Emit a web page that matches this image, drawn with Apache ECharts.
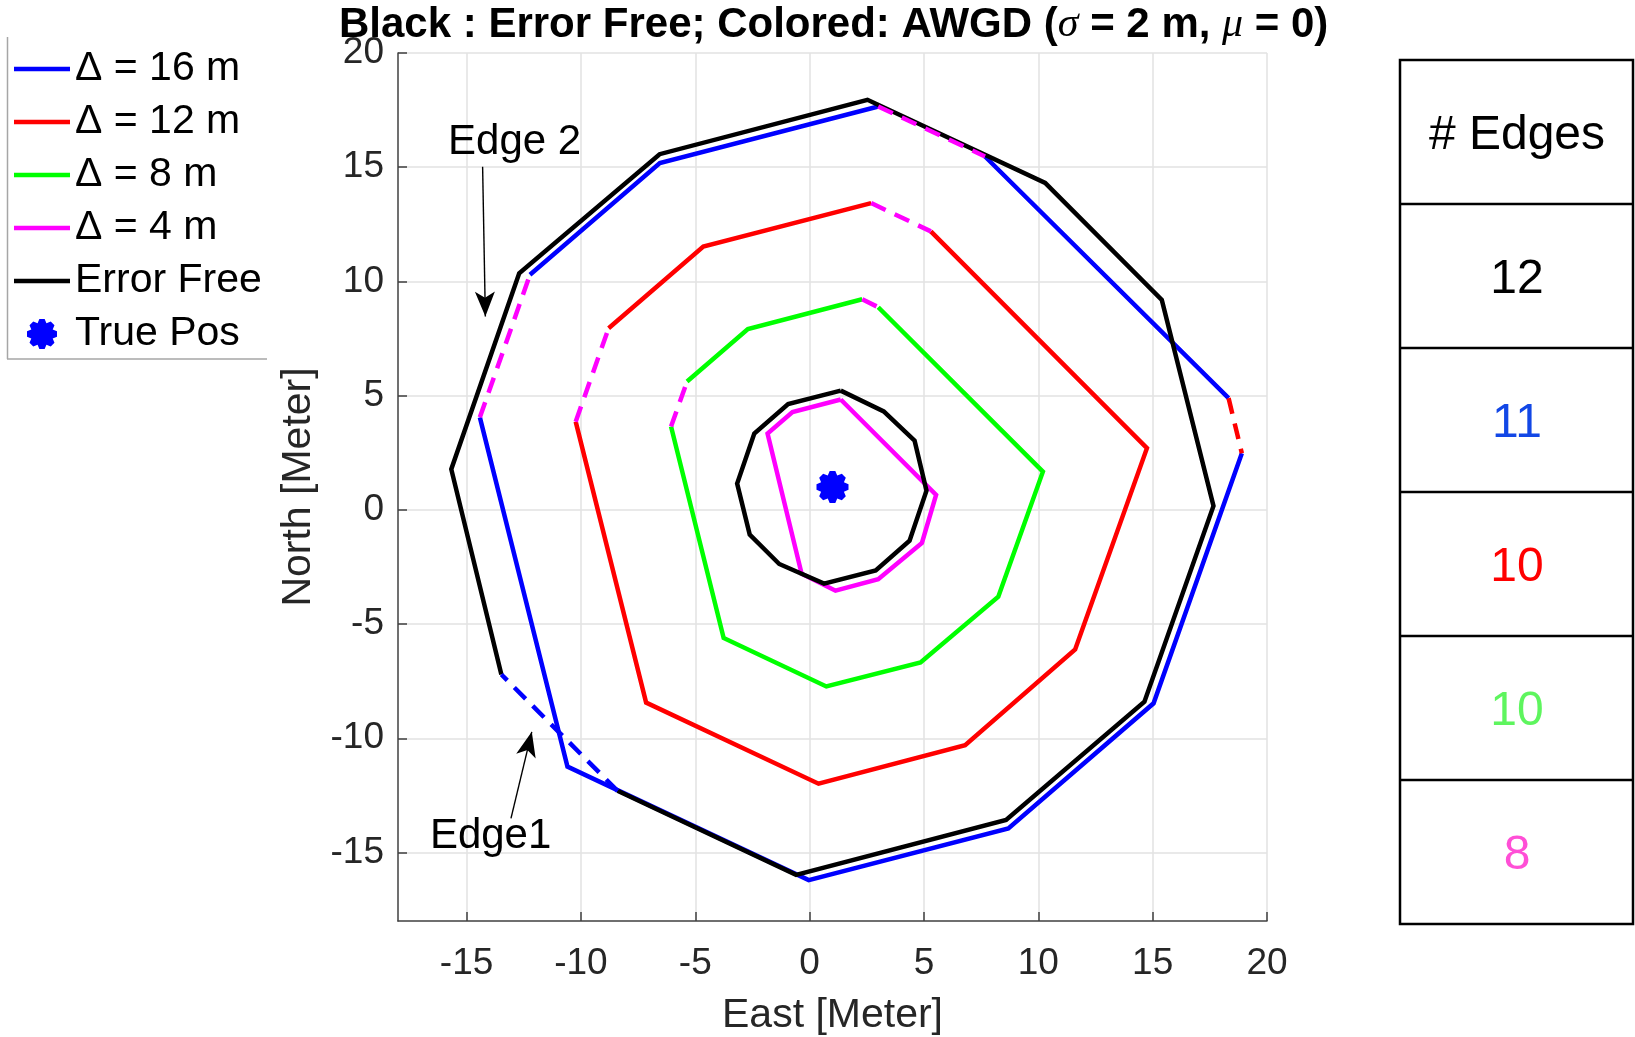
<!DOCTYPE html>
<html><head><meta charset="utf-8">
<script src="https://cdn.jsdelivr.net/npm/echarts@6/dist/echarts.min.js"></script>
<style>html,body{margin:0;padding:0;background:#fff}#c{width:1635px;height:1037px}</style>
</head><body><div id="c"></div>
<script>
// ---------------- data ----------------
const xTicks = [-15, -10, -5, 0, 5, 10, 15, 20];
const yTicks = [-15, -10, -5, 0, 5, 10, 15, 20];
const axisMin = -18, axisMax = 20;

// Error free polygons (12 edges each)
const errorFreeOuter = [[2.53,17.95],[10.30,14.31],[15.40,9.19],[17.66,0.17],[14.64,-8.40],[8.59,-13.58],
  [-0.59,-15.98],[-8.40,-12.30],[-13.48,-7.21],[-15.67,1.78],[-12.70,10.36],[-6.56,15.57]];
const errorFreeInner = [[1.36,5.22],[3.24,4.31],[4.59,3.03],[5.11,0.84],[4.37,-1.35],[2.89,-2.65],
  [0.63,-3.23],[-1.33,-2.37],[-2.62,-1.08],[-3.17,1.15],[-2.42,3.34],[-0.94,4.63]];
// AWGD polygons
const delta16 = [[3.0,17.66],[7.67,15.47],[18.32,4.89],[18.90,2.48],[15.04,-8.47],[8.69,-13.95],
  [-0.04,-16.21],[-10.59,-11.24],[-14.42,4.05],[-12.23,10.29],[-6.55,15.18]];
const delta12 = [[2.69,13.43],[5.30,12.19],[14.75,2.70],[11.61,-6.11],[6.80,-10.30],[0.39,-11.99],
  [-7.15,-8.44],[-10.23,3.86],[-8.79,7.95],[-4.65,11.53]];
const delta8 = [[2.30,9.22],[3.0,8.87],[10.20,1.67],[8.25,-3.80],[4.85,-6.68],[0.73,-7.73],
  [-3.76,-5.61],[-6.06,3.65],[-5.36,5.62],[-2.70,7.91]];
const delta4 = [[1.36,4.83],[5.53,0.65],[4.91,-1.45],[3.0,-3.04],[1.13,-3.54],[-0.35,-2.80],
  [-1.84,3.34],[-0.75,4.28]];
const truePos = [[1.0, 1.0]];

// edges (index i joins vertex i and i+1) that are drawn dashed, and in which series colour
const errorFreeOuterDashed = [[7, 'blue']];
const delta16Dashed = [[0, 'magenta'], [2, 'red'], [8, 'magenta']];
const delta12Dashed = [[0, 'magenta'], [7, 'magenta']];
const delta8Dashed = [[0, 'magenta'], [7, 'magenta']];

const legendNames = ['Δ = 16 m', 'Δ = 12 m', 'Δ = 8 m', 'Δ = 4 m', 'Error Free', 'True Pos'];
const annotationTexts = [[-12.9, 16.1, 'Edge 2'], [-13.95, -14.28, 'Edge1']];
const annotationArrows = [[[-14.3, 15.02], [-14.18, 8.46]], [[-13.06, -13.51], [-12.15, -9.72]]];

const tableHeader = '# Edges';
const edgeCounts = ['12', '11', '10', '10', '8'];

// ---------------- styling ----------------
const C = { blue: '#0000ff', red: '#ff0000', green: '#00ff00', magenta: '#ff00ff', black: '#000000' };
const countColors = ['#000000', '#1247e6', '#ff0000', '#5ef55e', '#ff4fd6'];
const FONT = '"Liberation Sans", Arial, sans-serif';
const LW = 4.5;
const DASH = [16, 10];
const BRK = ['-', '-'];
const LINE_ICON = 'path://M0 0 H56 V4.5 H0 Z';

function solidData(v, dashed) {
  const skip = dashed.map(d => d[0]);
  const n = v.length;
  const start = skip.length ? (skip[0] + 1) % n : 0;
  const out = [];
  let open = false;
  for (let k = 0; k < n; k++) {
    const i = (start + k) % n;
    if (skip.includes(i)) { if (open) { out.push(BRK); open = false; } continue; }
    if (!open) { out.push(v[i]); open = true; }
    out.push(v[(i + 1) % n]);
  }
  return out;
}
function dashedData(list, color) {
  const out = [];
  list.forEach(([v, dashed]) => {
    dashed.filter(d => d[1] === color).forEach(d => {
      out.push(v[d[0]], v[(d[0] + 1) % v.length], BRK);
    });
  });
  return out;
}
const allDashed = [[errorFreeOuter, errorFreeOuterDashed], [delta16, delta16Dashed], [delta12, delta12Dashed], [delta8, delta8Dashed]];

function gearPath() {
  const pts = [];
  const d = Math.PI / 180;
  for (let k = 0; k < 8; k++) {
    const a = k * Math.PI / 4;
    pts.push([0.76 * Math.cos(a - 22.5 * d), 0.76 * Math.sin(a - 22.5 * d)]);
    pts.push([Math.cos(a - 10 * d), Math.sin(a - 10 * d)]);
    pts.push([Math.cos(a + 10 * d), Math.sin(a + 10 * d)]);
  }
  return 'path://M' + pts.map(p => (p[0] * 100 + 100).toFixed(2) + ' ' + (p[1] * 100 + 100).toFixed(2)).join(' L') + ' Z';
}

function lineSeries(name, data, color, type, z) {
  return { type: 'line', name, data, symbol: 'none', silent: true, animation: false, z: z || 2,
    lineStyle: { color, width: LW, type: type || 'solid', cap: 'butt', join: 'miter' }, itemStyle: { color } };
}

const series = [
  lineSeries('Δ = 8 m', solidData(delta8, delta8Dashed), C.green),
  lineSeries('Δ = 12 m', solidData(delta12, delta12Dashed), C.red),
  lineSeries('Δ = 16 m', solidData(delta16, delta16Dashed), C.blue),
  lineSeries('Δ = 4 m', solidData(delta4, []), C.magenta),
  lineSeries('Error Free', solidData(errorFreeOuter, errorFreeOuterDashed), C.black),
  lineSeries('Error Free', solidData(errorFreeInner, []), C.black),
  lineSeries('m-dash', dashedData(allDashed, 'magenta'), C.magenta, DASH, 3),
  lineSeries('r-dash', dashedData(allDashed, 'red'), C.red, DASH, 3),
  lineSeries('b-dash', dashedData(allDashed, 'blue'), C.blue, DASH, 3),
  { type: 'scatter', name: 'True Pos', data: truePos, symbol: gearPath(), symbolSize: 32,
    itemStyle: { color: C.blue, opacity: 1 }, silent: true, z: 4 },
  { type: 'scatter', name: 'annot', data: annotationTexts, symbolSize: 0, silent: true, z: 5,
    itemStyle: { opacity: 1, color: '#000' },
    label: { show: true, position: 'inside', formatter: p => p.value[2], fontSize: 42, fontFamily: FONT,
      color: '#000', textBorderWidth: 0, opacity: 1 },
    markLine: { silent: true, symbol: ['none', 'arrow'], symbolSize: [15, 25], animation: false,
      lineStyle: { color: '#000', width: 1.4, type: 'solid', opacity: 1 }, itemStyle: { color: '#000' }, label: { show: false },
      data: annotationArrows.map(a => [{ coord: a[0] }, { coord: a[1] }]) } }
];

// table graphics
const tbl = { x: 1400, y: 60, w: 233, rowH: 144 };
const graphics = [];
const rows = [tableHeader].concat(edgeCounts);
graphics.push({ type: 'rect', shape: { x: tbl.x, y: tbl.y, width: tbl.w, height: tbl.rowH * rows.length },
  style: { fill: 'none', stroke: '#000', lineWidth: 2.5 } });
for (let r = 1; r < rows.length; r++) {
  graphics.push({ type: 'line', shape: { x1: tbl.x, y1: tbl.y + r * tbl.rowH, x2: tbl.x + tbl.w, y2: tbl.y + r * tbl.rowH },
    style: { stroke: '#000', lineWidth: 2.5 } });
}
rows.forEach((t, r) => {
  graphics.push({ type: 'text', x: tbl.x + 117, y: tbl.y + r * tbl.rowH + tbl.rowH / 2 + 4,
    style: { text: t, fill: r === 0 ? '#000' : countColors[r - 1], font: '48px ' + FONT, align: 'center', verticalAlign: 'middle' } });
});
// legend frame (left & bottom edges)
graphics.push({ type: 'line', shape: { x1: 7.5, y1: 37, x2: 7.5, y2: 359 }, style: { stroke: '#a6a6a6', lineWidth: 1.5 } });
graphics.push({ type: 'line', shape: { x1: 7, y1: 359, x2: 267, y2: 359 }, style: { stroke: '#a6a6a6', lineWidth: 1.5 } });

const axisCommon = {
  type: 'value', min: axisMin, max: axisMax,
  axisLine: { show: true, onZero: false, lineStyle: { color: '#404040', width: 1.5 } },
  splitLine: { show: true, lineStyle: { color: '#e2e2e2', width: 1.5 } },
  nameLocation: 'middle',
  nameTextStyle: { fontSize: 41, fontFamily: FONT, color: '#262626' }
};

const option = {
  animation: false,
  backgroundColor: '#fff',
  title: {
    text: 'Black : Error Free; Colored: AWGD ({s|σ} = 2 m, {s|μ} = 0)',
    left: 334, top: -1,
    textStyle: { fontSize: 42, fontWeight: 'bold', fontFamily: FONT, color: '#000',
      rich: { s: { fontSize: 42, fontStyle: 'italic', fontWeight: 'normal', fontFamily: '"Liberation Serif", serif', color: '#000' } } }
  },
  legend: {
    orient: 'vertical', left: 9, top: 42, padding: 5,
    itemWidth: 56, itemHeight: 30, itemGap: 9,
    data: legendNames.map((n, i) => i < 5 ? { name: n, icon: LINE_ICON } : { name: n }),
    textStyle: { fontSize: 41, fontFamily: FONT, color: '#000', lineHeight: 44 },
    selectedMode: false
  },
  grid: { left: 398, top: 53, width: 869, height: 868, containLabel: false, outerBoundsMode: 'none' },
  xAxis: Object.assign({}, axisCommon, {
    name: 'East [Meter]', nameGap: 74,
    axisTick: { show: true, inside: true, length: 9, customValues: xTicks, lineStyle: { color: '#404040', width: 1.5 } },
    axisLabel: { customValues: xTicks, fontSize: 37, fontFamily: FONT, color: '#262626', margin: 24 }
  }),
  yAxis: Object.assign({}, axisCommon, {
    name: 'North [Meter]', nameGap: 60,
    axisTick: { show: true, inside: true, length: 9, customValues: yTicks, lineStyle: { color: '#404040', width: 1.5 } },
    axisLabel: { customValues: yTicks, fontSize: 37, fontFamily: FONT, color: '#262626', margin: 14 }
  }),
  graphic: graphics,
  series
};
const chart = echarts.init(document.getElementById('c'), null, { renderer: 'canvas' });
chart.setOption(option);
</script></body></html>
